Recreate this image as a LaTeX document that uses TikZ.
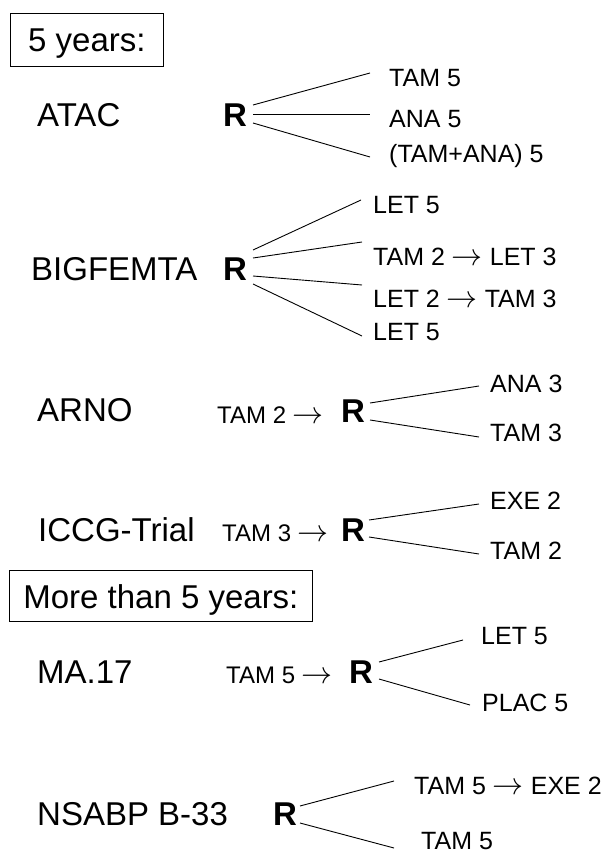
\RequirePackage{fix-cm}
\documentclass[tikz,border=0pt]{standalone}
\usepackage{fontspec}
\setmainfont{Liberation Sans}
\usetikzlibrary{calc}
% arrow used inside the treatment sequences
\newcommand\tharr{{\fontsize{31}{31}\selectfont$\rightarrow$}}
\begin{document}
\begin{tikzpicture}[x=1pt,y=-1pt,
  every node/.style={inner sep=0pt,anchor=base west},
  trial/.style={font=\fontsize{33}{38}\selectfont},
  randz/.style={font=\bfseries\fontsize{33}{38}\selectfont},
  arm/.style={font=\fontsize{25}{30}\selectfont},
  pre/.style={font=\fontsize{24}{28}\selectfont,anchor=base east},
  header/.style={draw,line width=0.8pt,font=\fontsize{33}{38}\selectfont,align=center},
  link/.style={line width=0.9pt}]
\useasboundingbox (0,0) rectangle (612,853);

% ---- 5 years ----
\node[header,text height=39pt,text depth=14pt,minimum width=153pt] (h1) at (10,52) {5 years:};

% ATAC
\node[trial] (atac) at (37,127) {ATAC};
\node[randz] (rA) at (223,127) {R};
\node[arm] (a1) at (389,87) {TAM 5};
\node[arm] (a2) at (389,128) {ANA 5};
\node[arm] (a3) at (389,163) {(TAM+ANA) 5};
\draw[link] (rA.base west) ++(30,-22) -- ($(a1.base west)+(-19,-14)$);
\draw[link] (rA.base west) ++(30,-13) -- ($(a2.base west)+(-19,-14)$);
\draw[link] (rA.base west) ++(30,-4) -- ($(a3.base west)+(-19,-6)$);

% BIGFEMTA
\node[trial] (big) at (31,280) {BIGFEMTA};
\node[randz] (rB) at (223,280) {R};
\node[arm] (b1) at (373,213) {LET 5};
\node[arm] (b2) at (373,265) {TAM 2 \tharr{} LET 3};
\node[arm] (b3) at (373,307) {LET 2 \tharr{} TAM 3};
\node[arm] (b4) at (373,340) {LET 5};
\draw[link] (rB.base west) ++(30,-30) -- ($(b1.base west)+(-12,-13)$);
\draw[link] (rB.base west) ++(30,-22) -- ($(b2.base west)+(-11,-23)$);
\draw[link] (rB.base west) ++(30,-4) -- ($(b3.base west)+(-11,-22)$);
\draw[link] (rB.base west) ++(30,4) -- ($(b4.base west)+(-11,-4)$);

% ARNO
\node[trial] (arno) at (37,421) {ARNO};
\node[pre] (pC) at (324,423) {TAM 2 \tharr};
\node[randz] (rC) at (341,422) {R};
\node[arm] (c1) at (490,392) {ANA 3};
\node[arm] (c2) at (490,441) {TAM 3};
\draw[link] (rC.base west) ++(29,-19) -- ($(c1.base west)+(-11,-6)$);
\draw[link] (rC.base west) ++(29,-2) -- ($(c2.base west)+(-11,-4)$);

% ICCG-Trial
\node[trial] (iccg) at (38,541) {ICCG-Trial};
\node[pre] (pD) at (329,541) {TAM 3 \tharr};
\node[randz] (rD) at (341,541) {R};
\node[arm] (d1) at (490,509) {EXE 2};
\node[arm] (d2) at (490,559) {TAM 2};
\draw[link] (rD.base west) ++(28,-21) -- ($(d1.base west)+(-11,-5)$);
\draw[link] (rD.base west) ++(28,-4) -- ($(d2.base west)+(-11,-5)$);

% ---- More than 5 years ----
\node[header,text height=38pt,text depth=13pt,minimum width=303pt] (h2) at (9,608) {More than 5 years:};

% MA.17
\node[trial] (ma) at (37,683) {MA.17};
\node[pre] (pE) at (333,683) {TAM 5 \tharr};
\node[randz] (rE) at (349,683) {R};
\node[arm] (e1) at (481,644) {LET 5};
\node[arm] (e2) at (482,711) {PLAC 5};
\draw[link] (rE.base west) ++(30,-21) -- ($(e1.base west)+(-18,-4)$);
\draw[link] (rE.base west) ++(30,-4) -- ($(e2.base west)+(-12,-6)$);

% NSABP B-33
\node[trial] (nsabp) at (37,825) {NSABP B-33};
\node[randz] (rF) at (273,825) {R};
\node[arm] (f1) at (414,794) {TAM 5 \tharr{} EXE 2};
\node[arm] (f2) at (421,849) {TAM 5};
\draw[link] (rF.base west) ++(27,-19) -- ($(f1.base west)+(-20,-13)$);
\draw[link] (rF.base west) ++(27,-2) -- ($(f2.base west)+(-27,-1)$);
\end{tikzpicture}
\end{document}
